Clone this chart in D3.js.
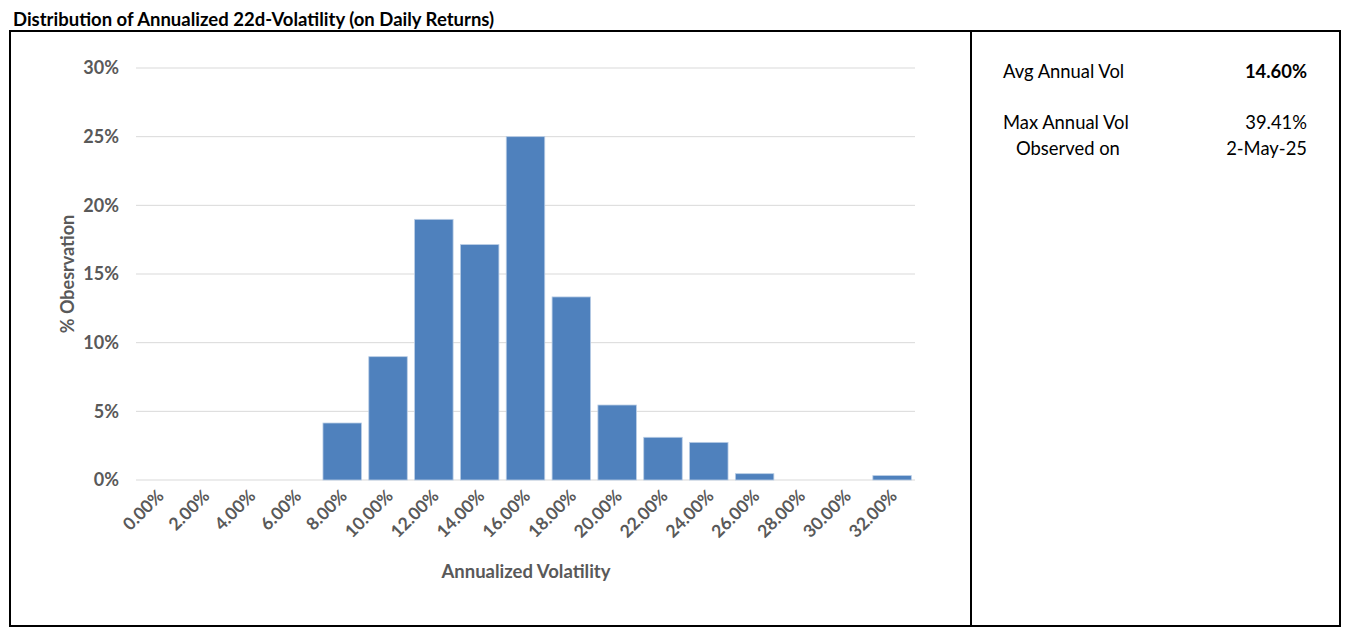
<!DOCTYPE html>
<html><head><meta charset="utf-8">
<script src="https://cdn.jsdelivr.net/npm/d3@7"></script>
<style>body{margin:0;background:#fff;} svg{display:block;}</style>
</head><body>
<svg id="c" width="1350" height="638"></svg>
<script>
const categories = ["0.00%","2.00%","4.00%","6.00%","8.00%","10.00%","12.00%","14.00%","16.00%","18.00%","20.00%","22.00%","24.00%","26.00%","28.00%","30.00%","32.00%"];
const observationPct = [0,0,0,0,4.15,8.98,18.98,17.14,25.0,13.33,5.46,3.11,2.74,0.46,0,0,0.32];
const yTicks = [0,5,10,15,20,25,30];
const statLabels = ["Avg Annual Vol","Max Annual Vol","Observed on"];
const statValues = ["14.60%","39.41%","2-May-25"];

const FONT = "Lato, 'Open Sans', sans-serif";
const svg = d3.select("#c");

svg.append("text").attr("x",13).attr("y",26).attr("font-family",FONT)
  .attr("font-weight","bold").attr("font-size",18.5).attr("fill","#000")
  .text("Distribution of Annualized 22d-Volatility (on Daily Returns)");

svg.append("rect").attr("x",10).attr("y",31).attr("width",1330).attr("height",595)
  .attr("fill","none").attr("stroke","#000").attr("stroke-width",2);
svg.append("line").attr("x1",971).attr("x2",971).attr("y1",31).attr("y2",626)
  .attr("stroke","#000").attr("stroke-width",2);

const x = d3.scaleBand().domain(categories).range([136,915]).paddingInner(0.16).paddingOuter(0.08);
const y = d3.scaleLinear().domain([0,30]).range([480,68]);

const g = svg.append("g");
g.selectAll("line.grid").data(yTicks).enter().append("line")
  .attr("x1",136).attr("x2",915).attr("y1",d=>y(d)).attr("y2",d=>y(d))
  .attr("stroke","#D9D9D9").attr("stroke-width",1);

g.selectAll("text.yt").data(yTicks).enter().append("text")
  .attr("x",119).attr("y",d=>y(d)).attr("dy","0.36em").attr("text-anchor","end")
  .attr("font-family",FONT).attr("font-weight","bold").attr("font-size",18).attr("fill","#595959")
  .text(d=>d+"%");

g.selectAll("rect.bar").data(observationPct).enter().append("rect")
  .attr("x",(d,i)=>x(categories[i])).attr("width",x.bandwidth())
  .attr("y",d=>y(d)).attr("height",d=>y(0)-y(d))
  .attr("fill","#4F81BD").attr("stroke","#B9CDE5").attr("stroke-width",0.8)
  .attr("display",d=>d>0?null:"none");

g.selectAll("text.xt").data(categories).enter().append("text")
  .attr("transform",d=>`translate(${x(d)+x.bandwidth()/2+6},${497}) rotate(-45)`)
  .attr("text-anchor","end")
  .attr("font-family",FONT).attr("font-weight","bold").attr("font-size",17.5).attr("fill","#595959")
  .text(d=>d);

svg.append("text").attr("x",526).attr("y",578).attr("text-anchor","middle")
  .attr("font-family",FONT).attr("font-weight","bold").attr("font-size",18.5).attr("fill","#595959")
  .text("Annualized Volatility");

svg.append("text").attr("transform","translate(74,274) rotate(-90)").attr("text-anchor","middle")
  .attr("font-family",FONT).attr("font-weight","bold").attr("font-size",18).attr("fill","#595959")
  .text("% Obesrvation");

const statY = [78,129,155];
const statX = [1003,1003,1016];
svg.selectAll("text.sl").data(statLabels).enter().append("text")
  .attr("x",(d,i)=>statX[i]).attr("y",(d,i)=>statY[i])
  .attr("font-family",FONT).attr("font-size",18.4).attr("fill","#000").text(d=>d);
svg.selectAll("text.sv").data(statValues).enter().append("text")
  .attr("x",1307).attr("y",(d,i)=>statY[i]).attr("text-anchor","end")
  .attr("font-family",FONT).attr("font-size",18.4).attr("fill","#000")
  .attr("font-weight",(d,i)=>i===0?"bold":"normal").text(d=>d);
</script>
</body></html>
